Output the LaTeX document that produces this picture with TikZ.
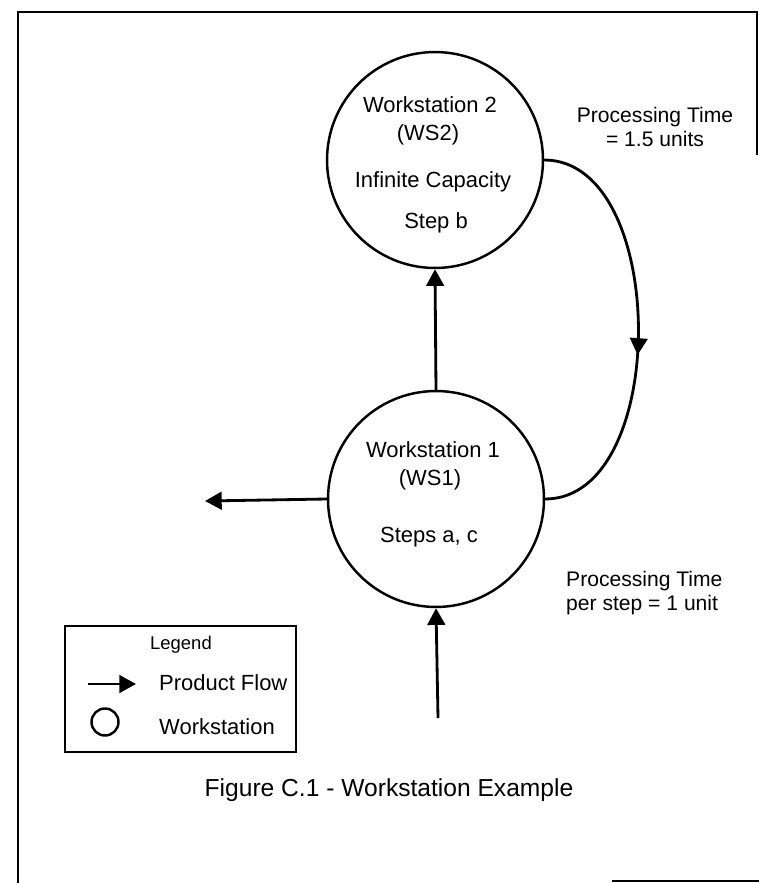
\documentclass[tikz,border=0pt]{standalone}
\usepackage{fontspec}
\setmainfont{Liberation Sans}
\usetikzlibrary{arrows.meta,decorations.markings}

\begin{document}
\begin{tikzpicture}[x=0.02cm,y=-0.02cm]

    \tikzstyle{ws} = [draw, circle, line width=1.4pt, minimum size=4.32cm, inner sep=0pt]
    \tikzstyle{ann} = [font=\fontsize{12.5}{15}\selectfont, inner sep=.5pt]
    \tikzstyle{note} = [font=\fontsize{12}{13.5}\selectfont, inner sep=.5pt]
    \tikzstyle{flow} = [arrows=-{Triangle[length=9.5pt,width=10pt]}, line width=1.6pt]

    \useasboundingbox (0,0) rectangle (759,883);

    % Frame
    \draw[line width=1.6pt] (18,883) -- (18,12) -- (757,12) -- (757,155);
    \draw[line width=.8pt] (612,881) -- (759,881);

    % Workstations
    \node[ws] (ws2) at (435,160) {};
    \node[ws] (ws1) at (436,499) {};

    \node[ann] (ws2name) at (430,105) {Workstation 2};
    \node[ann] (ws2short) at (428,135) {(WS2)};
    \node[ann] (ws2cap) at (433,182) {Infinite Capacity};
    \node[ann] (ws2step) at (436,223) {Step b};

    \node[ann] (ws1name) at (433,450) {Workstation 1};
    \node[ann] (ws1short) at (430,480) {(WS1)};
    \node[ann] (ws1step) at (429,537) {Steps a, c};

    % Product flow
    \coordinate (src) at (438,718);
    \coordinate (sink) at (205,501);
    \draw[flow] (src) -- (ws1.south);
    \draw[flow] (ws1.north) -- (ws2.south);
    \draw[flow] (ws1.west) -- (sink);
    \draw[line width=1.6pt, postaction={decorate},
        decoration={markings, mark=at position 0.56 with
            {\arrow{Triangle[length=9.5pt,width=10pt]}}}]
        (ws2.east) .. controls +(125,0) and +(125,0) .. (ws1.east);

    % Processing times
    \node[note, align=center] (time2) at (655,127) {Processing Time\\= 1.5 units};
    \node[note, align=left, anchor=west] (time1) at (565,593)
        {Processing Time\\per step = 1 unit};

    % Legend
    \draw[line width=1.4pt] (65,626) rectangle (296,752);
    \node[font=\fontsize{10.5}{12}\selectfont] (legtitle) at (181,645) {Legend};
    \coordinate (legfrom) at (88,684);
    \coordinate (legto) at (136,684);
    \draw[flow] (legfrom) -- (legto);
    \node[ann, anchor=west] (legflow) at (158,683) {Product Flow};
    \node[draw, circle, line width=1.4pt, minimum size=0.54cm, inner sep=0pt]
        (legws) at (105,722) {};
    \node[ann, anchor=west] (legwsname) at (158,727) {Workstation};

    % Caption
    \node[font=\fontsize{14}{16}\selectfont] (caption) at (389,790)
        {Figure C.1 - Workstation Example};

\end{tikzpicture}
\end{document}
